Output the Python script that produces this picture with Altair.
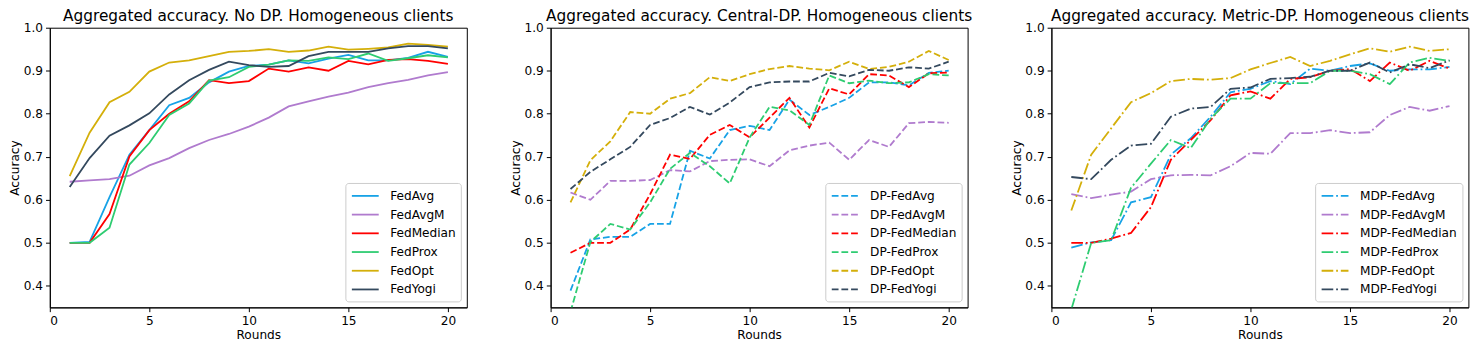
import altair as alt
import pandas as pd

rounds = list(range(1, 21))

titles = [
    "Aggregated accuracy. No DP. Homogeneous clients",
    "Aggregated accuracy. Central-DP. Homogeneous clients",
    "Aggregated accuracy. Metric-DP. Homogeneous clients",
]

base_names = ["FedAvg", "FedAvgM", "FedMedian", "FedProx", "FedOpt", "FedYogi"]
prefixes = ["", "DP-", "MDP-"]
colors = ["#17a2e6", "#b07bce", "#ff0000", "#2ecc71", "#d4af0a", "#34495e"]

# No DP
nodp_fedavg = [0.5, 0.502, 0.606, 0.705, 0.762, 0.82, 0.837, 0.873, 0.898, 0.911, 0.914, 0.924, 0.917, 0.928, 0.937, 0.924, 0.924, 0.93, 0.944, 0.932]
nodp_fedavgm = [0.642, 0.645, 0.648, 0.656, 0.68, 0.697, 0.72, 0.739, 0.753, 0.77, 0.791, 0.817, 0.829, 0.84, 0.849, 0.862, 0.871, 0.879, 0.889, 0.897]
nodp_fedmedian = [0.5, 0.5, 0.567, 0.701, 0.762, 0.8, 0.829, 0.878, 0.871, 0.876, 0.905, 0.898, 0.908, 0.9, 0.923, 0.915, 0.925, 0.927, 0.923, 0.916]
nodp_fedprox = [0.5, 0.5, 0.535, 0.682, 0.732, 0.797, 0.824, 0.877, 0.885, 0.909, 0.914, 0.924, 0.923, 0.931, 0.927, 0.94, 0.923, 0.929, 0.936, 0.931]
nodp_fedopt = [0.655, 0.756, 0.827, 0.851, 0.898, 0.919, 0.924, 0.934, 0.944, 0.946, 0.95, 0.944, 0.947, 0.956, 0.949, 0.951, 0.954, 0.963, 0.96, 0.956]
nodp_fedyogi = [0.63, 0.697, 0.749, 0.773, 0.801, 0.845, 0.878, 0.902, 0.921, 0.913, 0.909, 0.911, 0.934, 0.944, 0.944, 0.944, 0.952, 0.957, 0.957, 0.952]

# Central DP
cdp_fedavg = [0.389, 0.508, 0.514, 0.514, 0.544, 0.544, 0.714, 0.696, 0.762, 0.772, 0.762, 0.833, 0.797, 0.816, 0.837, 0.873, 0.873, 0.866, 0.895, 0.9]
cdp_fedavgm = [0.617, 0.6, 0.644, 0.644, 0.646, 0.669, 0.666, 0.69, 0.693, 0.694, 0.678, 0.715, 0.726, 0.733, 0.693, 0.739, 0.723, 0.778, 0.781, 0.779]
cdp_fedmedian = [0.477, 0.5, 0.5, 0.531, 0.613, 0.705, 0.695, 0.751, 0.774, 0.745, 0.791, 0.837, 0.768, 0.859, 0.845, 0.892, 0.889, 0.862, 0.894, 0.896]
cdp_fedprox = [0.34, 0.502, 0.544, 0.531, 0.594, 0.672, 0.709, 0.678, 0.638, 0.745, 0.816, 0.808, 0.774, 0.889, 0.871, 0.877, 0.871, 0.873, 0.892, 0.889]
cdp_fedopt = [0.594, 0.692, 0.736, 0.804, 0.8, 0.835, 0.848, 0.885, 0.876, 0.892, 0.904, 0.911, 0.905, 0.901, 0.921, 0.904, 0.909, 0.921, 0.946, 0.925]
cdp_fedyogi = [0.625, 0.665, 0.694, 0.723, 0.774, 0.79, 0.816, 0.798, 0.826, 0.862, 0.873, 0.875, 0.875, 0.895, 0.887, 0.902, 0.9, 0.908, 0.905, 0.921]

# Metric DP
mdp_fedavg = [0.489, 0.501, 0.506, 0.594, 0.606, 0.705, 0.743, 0.793, 0.85, 0.858, 0.876, 0.869, 0.905, 0.9, 0.911, 0.917, 0.9, 0.903, 0.903, 0.909]
mdp_fedavgm = [0.613, 0.604, 0.612, 0.619, 0.648, 0.657, 0.658, 0.657, 0.678, 0.709, 0.707, 0.755, 0.755, 0.762, 0.755, 0.757, 0.797, 0.816, 0.807, 0.818]
mdp_fedmedian = [0.5, 0.5, 0.51, 0.523, 0.583, 0.693, 0.739, 0.785, 0.843, 0.852, 0.835, 0.881, 0.885, 0.9, 0.904, 0.876, 0.919, 0.9, 0.923, 0.905]
mdp_fedprox = [0.345, 0.5, 0.506, 0.628, 0.684, 0.739, 0.72, 0.789, 0.835, 0.835, 0.871, 0.871, 0.871, 0.9, 0.9, 0.892, 0.869, 0.919, 0.93, 0.923]
mdp_fedopt = [0.575, 0.705, 0.766, 0.827, 0.848, 0.876, 0.881, 0.879, 0.883, 0.903, 0.918, 0.932, 0.911, 0.923, 0.938, 0.952, 0.944, 0.956, 0.946, 0.95]
mdp_fedyogi = [0.653, 0.648, 0.693, 0.726, 0.73, 0.793, 0.812, 0.816, 0.858, 0.861, 0.881, 0.883, 0.886, 0.9, 0.9, 0.919, 0.896, 0.915, 0.906, 0.924]

series = [
    [nodp_fedavg, nodp_fedavgm, nodp_fedmedian, nodp_fedprox, nodp_fedopt, nodp_fedyogi],
    [cdp_fedavg, cdp_fedavgm, cdp_fedmedian, cdp_fedprox, cdp_fedopt, cdp_fedyogi],
    [mdp_fedavg, mdp_fedavgm, mdp_fedmedian, mdp_fedprox, mdp_fedopt, mdp_fedyogi],
]

dashes = [None, [6.8, 2.9], [11.7, 2.9, 1.8, 2.9]]

x_ticks = [0, 5, 10, 15, 20]
y_ticks = [0.4, 0.5, 0.6, 0.7, 0.8, 0.9, 1.0]

W, H = 419, 281
FONT = "DejaVu Sans"


def panel(i):
    names = [prefixes[i] + n for n in base_names]
    rows = []
    for name, vals in zip(names, series[i]):
        for r, v in zip(rounds, vals):
            rows.append({"Round": r, "Accuracy": v, "Method": name})
    df = pd.DataFrame(rows)
    dash = dashes[i]
    legend_kwargs = dict(
        title=None,
        orient="bottom-right",
        offset=6,
        padding=5,
        strokeColor="#cccccc",
        cornerRadius=3,
        fillColor="rgba(255,255,255,0.85)",
        labelFontSize=12.2,
        labelFont=FONT,
        labelColor="#000000",
        symbolType="M-2,0H2",
        symbolSize=182,
        symbolStrokeWidth=1.8,
        symbolOffset=7,
        rowPadding=3.8,
        labelOffset=17,
        labelLimit=300,
    )
    mark_kwargs = dict(strokeWidth=1.8, clip=True)
    if dash is not None:
        legend_kwargs["symbolDash"] = dash
        mark_kwargs["strokeDash"] = dash
    chart = (
        alt.Chart(df)
        .mark_line(**mark_kwargs)
        .encode(
            x=alt.X(
                "Round:Q",
                scale=alt.Scale(domain=[0, 20.95], nice=False, zero=False),
                axis=alt.Axis(values=x_ticks, format="d", title="Rounds"),
            ),
            y=alt.Y(
                "Accuracy:Q",
                scale=alt.Scale(domain=[0.35, 1.0], nice=False, zero=False),
                axis=alt.Axis(values=y_ticks, format=".1f", title="Accuracy",
                              minExtent=27, maxExtent=27, titlePadding=1),
            ),
            color=alt.Color(
                "Method:N",
                scale=alt.Scale(domain=names, range=colors),
                sort=names,
                legend=alt.Legend(**legend_kwargs),
            ),
        )
        .properties(
            width=W,
            height=H,
            title=alt.TitleParams(
                titles[i], fontSize=15.4, font=FONT, fontWeight="normal",
                color="#000000", anchor="middle", offset=-3,
            ),
        )
    )
    return chart


chart = (
    alt.hconcat(panel(0), panel(1), panel(2), spacing=84.2, bounds="flush")
    .resolve_scale(color="independent")
    .resolve_legend(color="independent")
    .configure(padding=0)
    .configure_view(stroke="#000000", strokeWidth=1)
    .configure_axis(
        grid=False,
        domainColor="#000000",
        tickColor="#000000",
        labelColor="#000000",
        titleColor="#000000",
        labelFont=FONT,
        titleFont=FONT,
        labelFontSize=12.2,
        titleFontSize=12.2,
        titleFontWeight="normal",
        tickSize=4.3,
        labelPadding=3,
        titlePadding=2,
    )
)

chart.save("out.html", embed_options={"renderer": "svg", "actions": False})
